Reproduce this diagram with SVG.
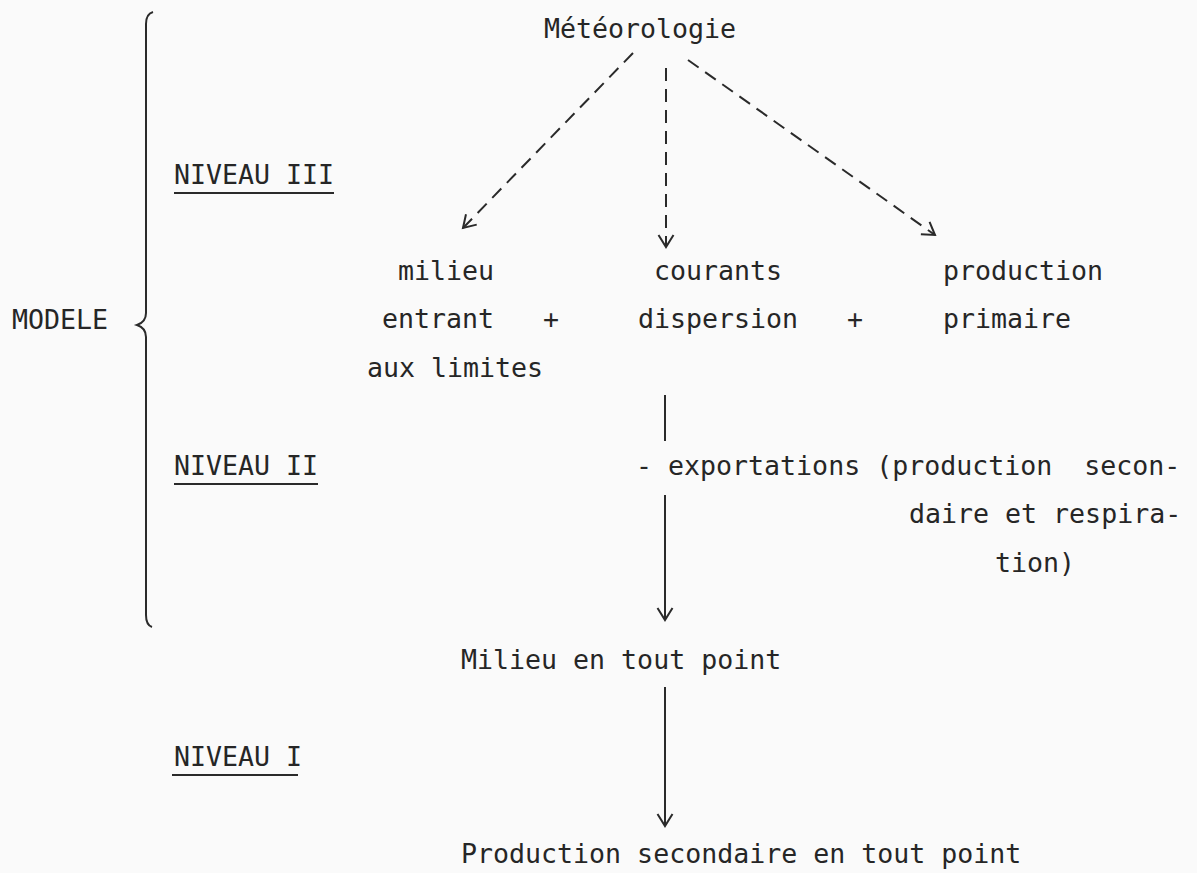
<svg xmlns="http://www.w3.org/2000/svg" width="1197" height="873" viewBox="0 0 1197 873">
  <style>
    .t { font-family: "DejaVu Sans Mono", "Liberation Mono", monospace; font-size: 26.6px; fill: #262626; white-space: pre; }
    .ln { stroke: #2a2a2a; stroke-width: 2; fill: none; }
    .dash { stroke-dasharray: 13 8; }
    .ul { stroke: #2a2a2a; stroke-width: 2; }
  </style>
  <defs>
    <marker id="ah" markerUnits="userSpaceOnUse" markerWidth="24" markerHeight="24" viewBox="-14 -12 16 24" refX="0" refY="0" orient="auto">
      <path d="M -12 -7.5 L 0 0 L -12 7.5" fill="none" stroke="#2a2a2a" stroke-width="2"/>
    </marker>
  </defs>
  <rect width="1197" height="873" fill="#fafafa"/>

  <g id="brace">
    <path class="ln" d="M 153 12 Q 146 14 146 24 L 146 313 Q 146 322 137 325 Q 146 328 146 337 L 146 615 Q 146 625 152 627" stroke-width="1.8"/>
  </g>

  <g id="modele"><text class="t" x="12" y="329">MODELE</text></g>

  <g id="niveau3">
    <text class="t" x="174" y="183.5">NIVEAU III</text>
    <line class="ul" x1="174" y1="193" x2="334" y2="193"/>
  </g>
  <g id="niveau2">
    <text class="t" x="174" y="474.5">NIVEAU II</text>
    <line class="ul" x1="174" y1="484" x2="318" y2="484"/>
  </g>
  <g id="niveau1">
    <text class="t" x="174" y="765.5">NIVEAU I</text>
    <line class="ul" x1="172" y1="775" x2="298" y2="775"/>
  </g>

  <g id="meteorologie"><text class="t" x="544" y="38">Météorologie</text></g>

  <g id="milieu-entrant">
    <text class="t" x="398" y="280">milieu</text>
    <text class="t" x="382" y="328">entrant</text>
    <text class="t" x="367" y="376.5">aux limites</text>
  </g>
  <g id="plus1"><text class="t" x="543" y="328">+</text></g>
  <g id="courants">
    <text class="t" x="654" y="280">courants</text>
    <text class="t" x="638" y="328">dispersion</text>
  </g>
  <g id="plus2"><text class="t" x="847" y="328">+</text></g>
  <g id="production-primaire">
    <text class="t" x="943" y="280">production</text>
    <text class="t" x="943" y="328">primaire</text>
  </g>

  <g id="exportations">
    <text class="t" x="636" y="474.5" xml:space="preserve">- exportations (production  secon-</text>
    <text class="t" x="909" y="523">daire et respira-</text>
    <text class="t" x="995" y="571.5">tion)</text>
  </g>

  <g id="milieu-tout-point"><text class="t" x="461" y="668.5">Milieu en tout point</text></g>
  <g id="production-secondaire"><text class="t" x="461" y="862.5">Production secondaire en tout point</text></g>

  <g id="connectors">
    <line class="ln dash" x1="633" y1="53" x2="463" y2="228" marker-end="url(#ah)"/>
    <line class="ln dash" x1="666" y1="68" x2="666" y2="247" marker-end="url(#ah)"/>
    <line class="ln dash" x1="688" y1="60" x2="935" y2="235" marker-end="url(#ah)"/>
    <line class="ln" x1="665" y1="395" x2="665" y2="441"/>
    <line class="ln" x1="665" y1="495" x2="665" y2="620" marker-end="url(#ah)"/>
    <line class="ln" x1="665" y1="687" x2="665" y2="826" marker-end="url(#ah)"/>
  </g>
</svg>
